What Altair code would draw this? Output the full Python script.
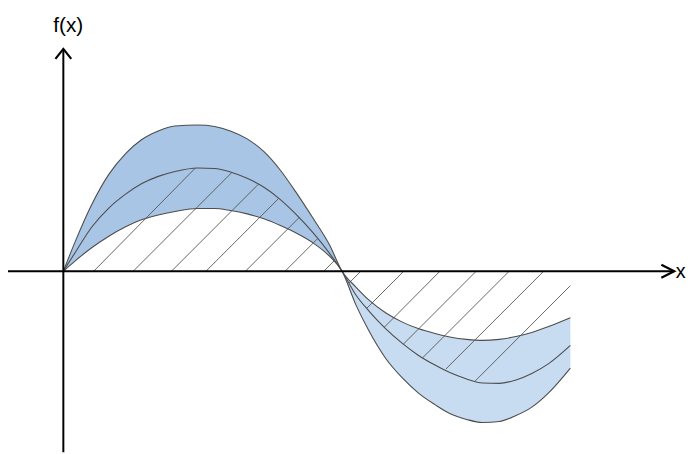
import altair as alt
import pandas as pd

# ---- curve samples (x in degrees, y in units of the middle curve's peak) ----
x_deg = [0, 7.66, 18.51, 29.36, 40.21, 50.43, 61.28, 72.13, 86.81, 97.66, 107.87, 118.72, 129.57,
         139.79, 150.64, 161.49, 171.70, 180.0,
         188.94, 197.24, 208.09, 218.94, 229.15, 240.0, 249.58, 260.43, 270.64, 281.49, 292.34,
         302.55, 313.40, 327.45]
upper = [0, 0.288, 0.654, 0.942, 1.144, 1.279, 1.365, 1.413, 1.423, 1.409, 1.365, 1.288, 1.163,
         0.990, 0.760, 0.510, 0.262, 0,
         -0.154, -0.279, -0.404, -0.495, -0.558, -0.606, -0.639, -0.663, -0.673, -0.663, -0.635,
         -0.596, -0.538, -0.452]
middle = [0, 0.183, 0.433, 0.615, 0.750, 0.851, 0.923, 0.971, 1.005, 1.000, 0.966, 0.904, 0.817,
          0.702, 0.548, 0.370, 0.178, 0,
          -0.231, -0.385, -0.558, -0.702, -0.817, -0.913, -0.986, -1.048, -1.087, -1.091, -1.058,
          -0.995, -0.899, -0.721]
lower = [0, 0.101, 0.231, 0.341, 0.433, 0.500, 0.548, 0.582, 0.611, 0.611, 0.591, 0.558, 0.510,
         0.447, 0.370, 0.274, 0.149, 0,
         -0.327, -0.577, -0.846, -1.038, -1.183, -1.298, -1.385, -1.442, -1.471, -1.462, -1.404,
         -1.322, -1.183, -0.942]

# ---- hatch segments (from the x axis to the middle curve) ----
hatch_x0 = [19.6, 45.1, 69.8, 92.1, 117.6, 143.2, 168.2, 192.1, 219.8, 243.2, 266.6, 287.9, 310.2, 327.45]
hatch_y0 = [0, 0, 0, 0, 0, 0, 0, 0, 0, 0, 0, 0, 0, -0.140]
hatch_x1 = [85.0, 108.9, 125.9, 139.1, 152.2, 164.2, 175.1, 184.5, 196.0, 207.4, 219.6, 231.9, 247.0, 265.9]
hatch_y1 = [1.000, 0.962, 0.846, 0.709, 0.521, 0.317, 0.105, -0.115, -0.360, -0.543, -0.709, -0.844, -0.952, -1.069]

# ---- axes ----
axis_x0 = [-37, 0]
axis_y0 = [0, -1.76]
axis_x1 = [394.5, 0]
axis_y1 = [0, 2.163]
axis_labels = ["x", "f(x)"]
label_x = [395.5, 3.2]
label_y = [-0.01, 2.382]

X_DOM = [-35.74, 398.3]
Y_DOM = [-1.676, 2.536]

xs = alt.Scale(domain=X_DOM, nice=False, zero=False)
ys = alt.Scale(domain=Y_DOM, nice=False, zero=False)

curves = pd.DataFrame({"x": x_deg, "upper": upper, "middle": middle, "lower": lower})
long = curves.melt("x", var_name="curve", value_name="y")
hatch = pd.DataFrame({"x0": hatch_x0, "y0": hatch_y0, "x1": hatch_x1, "y1": hatch_y1})
axes = pd.DataFrame({"x0": axis_x0, "y0": axis_y0, "x1": axis_x1, "y1": axis_y1})
right_tip = pd.DataFrame({"x": [axis_x1[0]], "y": [axis_y1[0]]})
up_tip = pd.DataFrame({"x": [axis_x1[1]], "y": [axis_y1[1]]})
labels = pd.DataFrame({"label": axis_labels, "x": label_x, "y": label_y})

band_pos = alt.Chart(curves).transform_filter("datum.x <= 180").mark_area(
    color="#a8c5e6", interpolate="monotone", opacity=1
).encode(
    x=alt.X("x:Q", scale=xs, axis=None),
    y=alt.Y("upper:Q", scale=ys, axis=None),
    y2="lower:Q",
)
band_neg = alt.Chart(curves).transform_filter("datum.x >= 180").mark_area(
    color="#c8dcf1", interpolate="monotone", opacity=1
).encode(
    x=alt.X("x:Q", scale=xs, axis=None),
    y=alt.Y("upper:Q", scale=ys, axis=None),
    y2="lower:Q",
)

hatch_lines = alt.Chart(hatch).mark_rule(color="#555555", strokeWidth=0.9).encode(
    x=alt.X("x0:Q", scale=xs, axis=None),
    y=alt.Y("y0:Q", scale=ys, axis=None),
    x2="x1:Q",
    y2="y1:Q",
)

lines = alt.Chart(long).mark_line(color="#4d4d4d", strokeWidth=1.1, interpolate="monotone").encode(
    x=alt.X("x:Q", scale=xs, axis=None),
    y=alt.Y("y:Q", scale=ys, axis=None),
    detail="curve:N",
)

axis_lines = alt.Chart(axes).mark_rule(color="black", strokeWidth=2).encode(
    x=alt.X("x0:Q", scale=xs, axis=None),
    y=alt.Y("y0:Q", scale=ys, axis=None),
    x2="x1:Q",
    y2="y1:Q",
)

arrow_right = alt.Chart(right_tip).mark_point(
    shape="M-1,-0.5L0,0L-1,0.5", size=676, filled=False, color="black", strokeWidth=2.2, opacity=1
).encode(
    x=alt.X("x:Q", scale=xs, axis=None),
    y=alt.Y("y:Q", scale=ys, axis=None),
)
arrow_up = alt.Chart(up_tip).mark_point(
    shape="M-0.8,1L0,0L0.8,1", size=400, filled=False, color="black", strokeWidth=2.2, opacity=1
).encode(
    x=alt.X("x:Q", scale=xs, axis=None),
    y=alt.Y("y:Q", scale=ys, axis=None),
)

text = alt.Chart(labels).mark_text(
    font="Liberation Sans", fontSize=20, color="black", align="left", baseline="middle"
).encode(
    x=alt.X("x:Q", scale=xs, axis=None),
    y=alt.Y("y:Q", scale=ys, axis=None),
    text="label:N",
)
text_fx = text.transform_filter("datum.label == 'f(x)'").mark_text(
    font="Liberation Sans", fontSize=21, color="black", align="center", baseline="middle"
)
text_x = text.transform_filter("datum.label == 'x'")

chart = alt.layer(
    band_pos, band_neg, hatch_lines, lines, axis_lines, arrow_right, arrow_up, text_x, text_fx
).properties(
    width=680, height=438,
    autosize=alt.AutoSizeParams(type="none"),
    padding={"left": 0, "top": 0, "right": 8, "bottom": 8},
    background="white",
).configure_view(stroke=None)

chart.save("out.html", embed_options={"renderer": "svg", "actions": False})
